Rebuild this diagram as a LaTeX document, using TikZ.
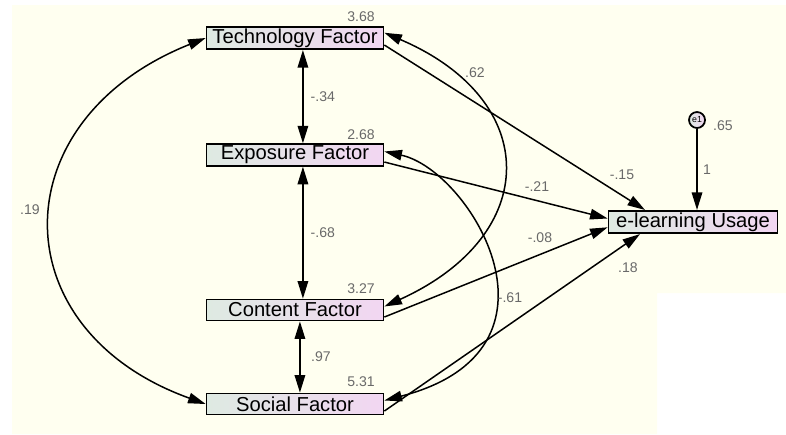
\documentclass[tikz,border=0pt]{standalone}
\usepackage{fontspec}
\setmainfont{Liberation Sans}
\usetikzlibrary{arrows.meta}
\usetikzlibrary{calc}
\definecolor{cream}{RGB}{255,255,240}
\definecolor{boxleft}{RGB}{222,234,226}
\definecolor{boxright}{RGB}{242,214,242}
\definecolor{labelgray}{RGB}{105,105,105}
\tikzset{
    factor/.style={draw=black, line width=0.35mm, left color=boxleft, right color=boxright,
        minimum height=0.42cm, inner sep=1pt, font=\fontsize{11.5}{13}\selectfont},
    errvar/.style={circle, draw=black, line width=0.35mm, left color=boxleft, right color=boxright,
        minimum size=0.32cm, inner sep=0pt, font=\fontsize{5}{6}\selectfont},
    coef/.style={text=labelgray, font=\fontsize{8}{9}\selectfont, inner sep=1pt},
    path/.style={line width=0.3mm, -{Triangle[length=10pt,width=6pt]}},
    cov/.style={line width=0.3mm, {Triangle[length=10pt,width=6pt]}-{Triangle[length=10pt,width=6pt]}}
}

\begin{document}
\begin{tikzpicture}[x=0.02cm, y=-0.02cm]
    % background
    \useasboundingbox (0,0) rectangle (786,434);
    \fill [white] (0,0) rectangle (786,434);
    \fill [cream] (12,5) -- (786,5) -- (786,293) -- (657,293) -- (657,434) -- (12,434) -- cycle;
    % observed factors
    \node [factor, minimum width=3.54cm] (tech) at (295,38) {Technology Factor};
    \node [factor, minimum width=3.54cm] (expo) at (295,155) {Exposure Factor};
    \node [factor, minimum width=3.54cm] (cont) at (295,310) {Content Factor};
    \node [factor, minimum width=3.54cm] (soc)  at (295,404) {Social Factor};
    \node [factor, minimum width=3.38cm] (use)  at (693,222) {e-learning Usage};
    \node [errvar] (e1) at (697,120) {e1};
    % intercepts / variances
    \node [coef] (vtech) at (361,17)  {3.68};
    \node [coef] (vexpo) at (361,135) {2.68};
    \node [coef] (vcont) at (361,289) {3.27};
    \node [coef] (vsoc)  at (361,382) {5.31};
    \node [coef] (ve1)   at (723,126) {.65};
    % covariances
    \draw [cov] ([xshift=4.5pt]tech.south) -- node[coef, right=3pt]{-.34} ([xshift=4.5pt]expo.north);
    \draw [cov] ([xshift=4.5pt]expo.south) -- node[coef, right=3pt]{-.68} ([xshift=4.5pt]cont.north);
    \draw [cov] ([xshift=2.8pt]cont.south) -- node[coef, right=5pt]{.97} ([xshift=2.8pt]soc.north);
    \draw [cov] (tech.west) .. controls (0,120) and (0,330) .. (soc.west);
    \node [coef] (c19) at (30,210) {.19};
    \draw [cov] ([yshift=3pt]tech.east) .. controls (542,100) and (542,235) .. ([yshift=2pt]cont.east);
    \node [coef] (c62) at (475,73) {.62};
    \draw [cov] ([yshift=2pt]expo.east) .. controls (470,170) and (580,350) .. ([yshift=2pt]soc.east);
    \node [coef] (c61) at (510,298) {-.61};
    % regression paths
    \draw [path] ([yshift=-4pt]tech.east) -- ([xshift=-0.96cm]use.north);
    \node [coef] (c15) at (622,175) {-.15};
    \draw [path] ([yshift=-4pt]expo.east) -- ([yshift=2pt]use.west);
    \node [coef] (c21) at (537,187) {-.21};
    \draw [path] ([yshift=-4pt]cont.east) -- ([yshift=-3pt]use.west);
    \node [coef] (c08) at (540,238) {-.08};
    \draw [path] ([yshift=-4pt]soc.east) -- ([xshift=-1.06cm]use.south);
    \node [coef] (c18) at (628,268) {.18};
    \draw [path] (e1) -- node[coef, right=2pt]{1} (e1 |- use.north);
\end{tikzpicture}
\end{document}
